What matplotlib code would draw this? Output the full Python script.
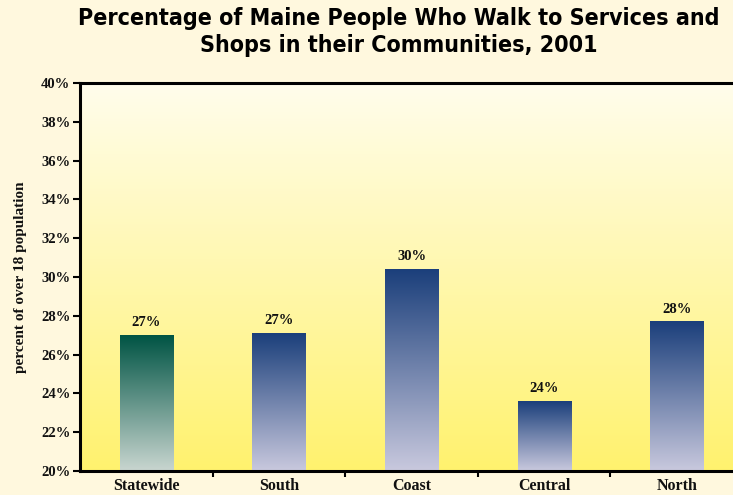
import numpy as np
import matplotlib
matplotlib.use("Agg")
import matplotlib.pyplot as plt
from matplotlib.colors import LinearSegmentedColormap
from matplotlib import font_manager

regions = ["Statewide", "South", "Coast", "Central", "North"]
pct_walk = [27.0, 27.1, 30.4, 23.6, 27.7]
y_ticks = [20, 22, 24, 26, 28, 30, 32, 34, 36, 38, 40]

title = "Percentage of Maine People Who Walk to Services and\nShops in their Communities, 2001"
y_label = "percent of over 18 population"

serif = ["Liberation Serif", "DejaVu Serif"]
installed = {f.name for f in font_manager.fontManager.ttflist}
title_font = [f for f in ["Liberation Sans Narrow", "DejaVu Sans Condensed",
                          "DejaVu Sans"] if f in installed] or ["DejaVu Sans"]

fig = plt.figure(figsize=(7.33, 4.95), dpi=100)
fig.patch.set_facecolor("#FFF8DE")
ax = fig.add_axes([80 / 733, 24 / 495, 663 / 733, 388 / 495])

ymin, ymax = 20, 40

# plot area background: pale cream fading to yellow
bg = LinearSegmentedColormap.from_list("bg", ["#FFF26E", "#FFFDEC"])
ax.imshow(np.linspace(0, 1, 256).reshape(-1, 1), cmap=bg, origin="lower",
          extent=[0, 1, 0, 1], transform=ax.transAxes, aspect="auto", zorder=0)

green = LinearSegmentedColormap.from_list("g", ["#C9D6D0", "#005444"])
blue = LinearSegmentedColormap.from_list("b", ["#C9C9DE", "#1B3F7B"])

width = 0.4
x = np.arange(len(regions))
bars = ax.bar(x, [v - ymin for v in pct_walk], width=width, bottom=ymin,
              color="none", edgecolor="none", zorder=2)
for i, (b, v) in enumerate(zip(bars, pct_walk)):
    cmap = green if i == 0 else blue
    x0 = b.get_x()
    ax.imshow(np.linspace(0, 1, 256).reshape(-1, 1), cmap=cmap, origin="lower",
              extent=[x0, x0 + width, ymin, v], aspect="auto", zorder=2)
    ax.text(x0 + width / 2, v + 0.3, f"{v:.0f}%", ha="center", va="bottom",
            fontsize=10.5, fontweight="bold", family=serif, color="#111111", zorder=3)

ax.set_xlim(-0.5, len(regions) - 0.5)
ax.set_ylim(ymin, ymax)

ax.set_yticks(y_ticks)
ax.set_yticklabels([f"{t}%" for t in y_ticks], family=serif, fontweight="bold",
                   fontsize=10.5, color="#111111")
ax.set_xticks(x)
ax.set_xticklabels(regions, family=serif, fontweight="bold", fontsize=11.5,
                   color="#111111")
ax.set_xticks(np.arange(0.5, len(regions) - 0.5, 1), minor=True)
ax.tick_params(axis="x", which="major", length=0, pad=5)
ax.tick_params(axis="x", which="minor", length=4, width=1.5, direction="out")
ax.tick_params(axis="y", which="major", length=5, width=1.5, direction="out", pad=2)

for side in ["left", "bottom", "top", "right"]:
    ax.spines[side].set_linewidth(2.2)
    ax.spines[side].set_color("black")
    ax.spines[side].set_zorder(5)

ax.set_ylabel(y_label, family=serif, fontweight="bold", fontsize=11,
              color="#111111", labelpad=10)

fig.text(0.544, 0.985, title, ha="center", va="top", fontsize=16.7,
         fontweight="heavy", family=title_font, stretch="condensed",
         color="black", linespacing=1.2)

fig.savefig("out.png", dpi=100, facecolor=fig.get_facecolor())
